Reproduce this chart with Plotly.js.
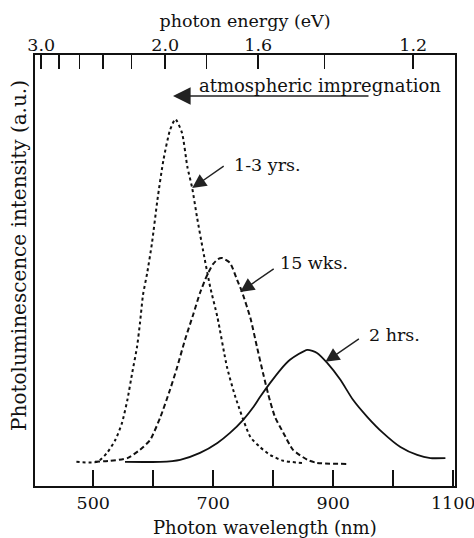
<!DOCTYPE html>
<html>
<head>
<meta charset="utf-8">
<script src="https://cdn.plot.ly/plotly-3.0.1.min.js"></script>
<style>
html,body{margin:0;padding:0;background:#fff;}
#chart{width:474px;height:538px;}
</style>
</head>
<body>
<div id="chart"></div>
<script>
// ---- Data ----
// 1-3 yrs. (dotted)
const wl_yrs = [472, 507, 523, 537, 548, 557, 565, 573, 578, 583, 590, 598, 607, 617, 628, 637, 648, 657, 665, 673, 683, 695, 707, 723, 737, 762, 778, 795, 817, 848];
const pl_yrs = [0.3, 0.3, 2.9, 6.7, 11.6, 18.3, 26.1, 33.6, 40.6, 48.7, 55.1, 63.8, 76.2, 87.8, 96.5, 99.7, 95.7, 85.8, 79.7, 71.3, 61.7, 51.0, 42.3, 27.8, 19.1, 7.5, 4.6, 2.3, 0.6, 0];
// 15 wks. (dashed)
const wl_wks = [503, 528, 557, 578, 595, 612, 628, 640, 653, 667, 678, 690, 700, 708, 715, 728, 740, 748, 762, 773, 783, 792, 803, 817, 833, 857, 873, 923];
const pl_wks = [0.3, 0.6, 1.4, 3.8, 6.7, 13.3, 21.2, 27.8, 35.7, 43.2, 49.3, 54.5, 57.7, 59.1, 59.4, 58.0, 53.0, 49.6, 42.0, 33.6, 26.1, 19.7, 13.3, 8.7, 3.8, 0.9, 0, -0.3];
// 2 hrs. (solid)
const wl_hrs = [553, 612, 645, 678, 707, 728, 750, 767, 778, 795, 812, 828, 857, 873, 890, 912, 933, 957, 983, 1012, 1040, 1062, 1087];
const pl_hrs = [0.3, 0.3, 0.9, 2.9, 5.8, 8.7, 12.5, 16.2, 19.1, 23.2, 27.0, 29.9, 32.8, 31.9, 29.0, 24.1, 18.3, 13.3, 8.7, 4.6, 2.3, 1.4, 1.4];

// Axis ticks
const wlTicks = [500, 600, 700, 800, 900, 1000, 1100];
const wlTickText = ['500', '', '700', '', '900', '', '1100'];
const eTicks = [3.0, 2.8, 2.6, 2.4, 2.2, 2.0, 1.8, 1.6, 1.4, 1.2];
const eTickText = ['3.0', '', '', '', '', '2.0', '', '1.6', '', '1.2'];
const HC = 1240; // eV*nm, energy -> wavelength conversion for the top axis

// Titles and curve labels
const xTitle = 'Photon wavelength (nm)';
const x2Title = 'photon energy (eV)';
const yTitle = 'Photoluminescence intensity (a.u.)';
const labels = ['1-3 yrs.', '15 wks.', '2 hrs.'];

const FONT = '"DejaVu Serif", "Liberation Serif", serif';
const INK = '#111';

const traces = [
  {x: wl_yrs, y: pl_yrs, type: 'scatter', mode: 'lines', name: labels[0],
   line: {color: INK, width: 2, dash: 'dot', shape: 'spline', smoothing: 0.6}},
  {x: wl_wks, y: pl_wks, type: 'scatter', mode: 'lines', name: labels[1],
   line: {color: INK, width: 2, dash: '5px,3px', shape: 'spline', smoothing: 0.6}},
  {x: wl_hrs, y: pl_hrs, type: 'scatter', mode: 'lines', name: labels[2],
   line: {color: INK, width: 1.8, shape: 'spline', smoothing: 0.6}},
  {x: [], y: [], type: 'scatter', mode: 'lines', xaxis: 'x2', showlegend: false, hoverinfo: 'skip'}
];

const XR = [403, 1103];
const YR = [-6.7, 118.3];

const layout = {
  width: 474, height: 538,
  margin: {l: 35, r: 19, t: 55, b: 52},
  paper_bgcolor: '#fff', plot_bgcolor: '#fff',
  showlegend: false,
  font: {family: FONT, color: INK, size: 17},
  xaxis: {
    range: XR, showgrid: false, zeroline: false,
    showline: true, linecolor: INK, linewidth: 2.2, mirror: true,
    tickmode: 'array', tickvals: wlTicks, ticktext: wlTickText,
    ticks: 'inside', ticklen: 16, tickwidth: 1.5, tickcolor: INK,
    ticklabeloverflow: 'allow',
    tickfont: {family: FONT, size: 17.5, color: INK}
  },
  xaxis2: {
    range: XR, overlaying: 'x', side: 'top', anchor: 'y',
    showgrid: false, zeroline: false, showline: false,
    tickmode: 'array', tickvals: eTicks.map(e => HC / e), ticktext: eTickText,
    ticks: 'inside', ticklen: 14, tickwidth: 1.5, tickcolor: INK,
    ticklabeloverflow: 'allow',
    tickfont: {family: FONT, size: 17.5, color: INK},
    title: {text: x2Title, font: {family: FONT, size: 17.5, color: INK}, standoff: 2}
  },
  yaxis: {
    range: YR, showgrid: false, zeroline: false,
    showline: true, linecolor: INK, linewidth: 2.2, mirror: true,
    showticklabels: false, ticks: ''
  },
  annotations: [
    {xref: 'paper', yref: 'paper', x: -0.038, y: 0.534, xanchor: 'center', yanchor: 'middle',
     text: yTitle, textangle: -90, showarrow: false, font: {family: FONT, size: 20, color: INK}},
    {xref: 'paper', yref: 'paper', x: 0.548, y: -0.097, xanchor: 'center', yanchor: 'middle',
     text: xTitle, showarrow: false, font: {family: FONT, size: 18, color: INK}},
    // atmospheric impregnation arrow + text
    {x: 633, y: 106.4, xref: 'x', yref: 'y', text: '', showarrow: true, arrowhead: 2, arrowsize: 2.2,
     arrowwidth: 1.6, arrowcolor: '#222', ax: 197, ay: 0, axref: 'pixel', ayref: 'pixel'},
    {x: 673, y: 109.6, xref: 'x', yref: 'y', text: 'atmospheric impregnation', xanchor: 'left',
     showarrow: false, font: {family: FONT, size: 18, color: INK}},
    // curve labels
    {x: 665, y: 79.7, xref: 'x', yref: 'y', text: '', showarrow: true, arrowhead: 2, arrowsize: 2,
     arrowwidth: 1.4, arrowcolor: '#222', ax: 33, ay: -23},
    {x: 732, y: 86.4, xref: 'x', yref: 'y', text: labels[0], xanchor: 'left', showarrow: false,
     font: {family: FONT, size: 17.5, color: INK}},
    {x: 745, y: 49.6, xref: 'x', yref: 'y', text: '', showarrow: true, arrowhead: 2, arrowsize: 2,
     arrowwidth: 1.4, arrowcolor: '#222', ax: 35, ay: -24},
    {x: 808, y: 58.0, xref: 'x', yref: 'y', text: labels[1], xanchor: 'left', showarrow: false,
     font: {family: FONT, size: 17.5, color: INK}},
    {x: 887, y: 29.3, xref: 'x', yref: 'y', text: '', showarrow: true, arrowhead: 2, arrowsize: 2,
     arrowwidth: 1.4, arrowcolor: '#222', ax: 35, ay: -24},
    {x: 957, y: 37.1, xref: 'x', yref: 'y', text: labels[2], xanchor: 'left', showarrow: false,
     font: {family: FONT, size: 17.5, color: INK}}
  ]
};

Plotly.newPlot('chart', traces, layout, {displayModeBar: false, staticPlot: true});
</script>
</body>
</html>
